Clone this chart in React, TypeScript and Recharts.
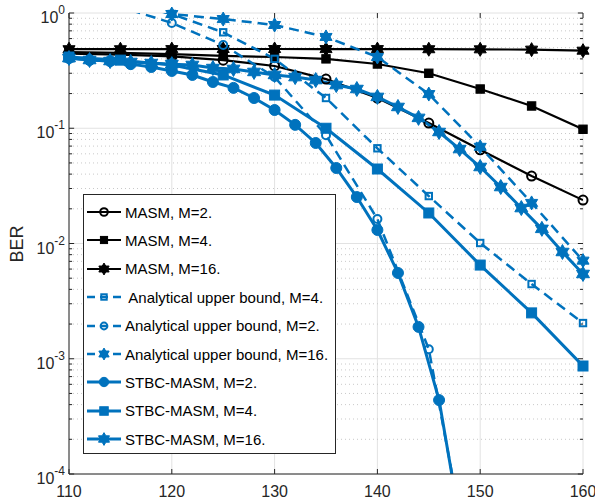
import React from "react";
import {
  LineChart,
  Line,
  XAxis,
  YAxis,
  CartesianGrid,
  ReferenceLine,
  Legend,
} from "recharts";

const FONT = '"Liberation Sans", Arial, Helvetica, sans-serif';
const BLUE = "#0072BD";
const BLACK = "#000000";
const AXIS = "#262626";

// SNR grid (dB)
const snrStep5 = [110, 115, 120, 125, 130, 135, 140, 145, 150, 155, 160];
const snrStep2 = [
  110, 112, 114, 116, 118, 120, 122, 124, 126, 128, 130, 132, 134, 136, 138,
  140, 142, 144, 146, 148, 150, 152, 154, 156, 158, 160,
];
const snrStbcM2 = [
  110, 112, 114, 116, 118, 120, 122, 124, 126, 128, 130, 132, 134, 136, 138,
  140, 142, 144, 146, 148,
];
const snrBoundM2 = [110, 115, 120, 125, 130, 135, 140, 145, 150];

// BER values
const berMasmM2 = [0.445, 0.435, 0.42, 0.39, 0.347, 0.267, 0.183, 0.111, 0.065, 0.0385, 0.0238];
const berMasmM4 = [0.459, 0.45, 0.44, 0.425, 0.415, 0.4, 0.361, 0.3, 0.219, 0.156, 0.098];
const berMasmM16 = [0.485, 0.485, 0.486, 0.487, 0.487, 0.486, 0.486, 0.485, 0.484, 0.481, 0.471];
const berBoundM4 = [1.6, 1.25, 0.98, 0.68, 0.4, 0.183, 0.067, 0.0258, 0.0101, 0.00445, 0.00204];
const berBoundM2 = [1.5, 1.13, 0.82, 0.528, 0.278, 0.087, 0.0163, 0.00121, 0.000005];
const berBoundM16 = [1.6, 1.3, 0.98, 0.886, 0.787, 0.62, 0.415, 0.198, 0.069, 0.0225, 0.0071];
const berStbcM2 = [
  0.407, 0.391, 0.383, 0.36, 0.34, 0.314, 0.29, 0.252, 0.224, 0.183, 0.144,
  0.107, 0.0745, 0.0452, 0.0253, 0.0131, 0.00555, 0.00189, 0.000438, 0.00004,
];
const berStbcM4 = [0.415, 0.39, 0.354, 0.29, 0.194, 0.1, 0.0443, 0.0184, 0.0065, 0.0025, 0.000865];
const berStbcM16 = [
  0.407, 0.391, 0.383, 0.376, 0.368, 0.36, 0.354, 0.333, 0.327, 0.308, 0.29,
  0.278, 0.262, 0.237, 0.219, 0.187, 0.153, 0.123, 0.0928, 0.066, 0.0461,
  0.0309, 0.0203, 0.0134, 0.00844, 0.00544,
];

const xTicks = [110, 120, 130, 140, 150, 160];
const yTicks = [0.0001, 0.001, 0.01, 0.1, 1];
const Y_MIN = 0.0001;
const Y_MAX = 1;

type Pt = { x: number; y: number };
type MarkerKind = "circle" | "square" | "hexagram";

const toPoints = (xs: number[], ys: number[]): Pt[] =>
  ys.map((y, i) => ({ x: xs[i], y }));

const series = [
  { name: "MASM, M=2.", data: toPoints(snrStep5, berMasmM2), color: BLACK, width: 2.2, dash: undefined, marker: "circle" as MarkerKind, size: 4.5, filled: false },
  { name: "MASM, M=4.", data: toPoints(snrStep5, berMasmM4), color: BLACK, width: 2.2, dash: undefined, marker: "square" as MarkerKind, size: 4.2, filled: true },
  { name: "MASM, M=16.", data: toPoints(snrStep5, berMasmM16), color: BLACK, width: 2.2, dash: undefined, marker: "hexagram" as MarkerKind, size: 7, filled: true },
  { name: " Analytical upper bound, M=4.", data: toPoints(snrStep5, berBoundM4), color: BLUE, width: 2.5, dash: "10 6", marker: "square" as MarkerKind, size: 3.2, filled: false },
  { name: "Analytical upper bound, M=2.", data: toPoints(snrBoundM2, berBoundM2), color: BLUE, width: 2.5, dash: "10 6", marker: "circle" as MarkerKind, size: 4, filled: false },
  { name: "Analytical upper bound, M=16.", data: toPoints(snrStep5, berBoundM16), color: BLUE, width: 2.5, dash: "10 6", marker: "hexagram" as MarkerKind, size: 7, filled: true },
  { name: "STBC-MASM, M=2.", data: toPoints(snrStbcM2, berStbcM2), color: BLUE, width: 3, dash: undefined, marker: "circle" as MarkerKind, size: 5.5, filled: true },
  { name: "STBC-MASM, M=4.", data: toPoints(snrStep5, berStbcM4), color: BLUE, width: 3, dash: undefined, marker: "square" as MarkerKind, size: 5, filled: true },
  { name: "STBC-MASM, M=16.", data: toPoints(snrStep2, berStbcM16), color: BLUE, width: 3, dash: undefined, marker: "hexagram" as MarkerKind, size: 7.5, filled: true },
];

// minor log grid positions (2..9 in every decade)
const minorY: number[] = [];
for (let d = -4; d < 0; d++) {
  for (let k = 2; k <= 9; k++) minorY.push(k * Math.pow(10, d));
}

function hexagram(cx: number, cy: number, R: number) {
  const r = R / Math.sqrt(3);
  const pts: string[] = [];
  for (let i = 0; i < 12; i++) {
    const a = ((-90 + i * 30) * Math.PI) / 180;
    const rad = i % 2 === 0 ? R : r;
    pts.push(`${(cx + rad * Math.cos(a)).toFixed(2)},${(cy + rad * Math.sin(a)).toFixed(2)}`);
  }
  return "M" + pts.join("L") + "Z";
}

function Marker({ kind, cx, cy, size, color, filled }: any) {
  const fill = filled ? color : "none";
  const sw = filled ? 1 : 2;
  if (kind === "circle")
    return <circle cx={cx} cy={cy} r={size} fill={fill} stroke={color} strokeWidth={sw} />;
  if (kind === "square")
    return (
      <rect x={cx - size} y={cy - size} width={size * 2} height={size * 2} fill={fill} stroke={color} strokeWidth={sw} />
    );
  return <path d={hexagram(cx, cy, size)} fill={fill} stroke={color} strokeWidth={sw} strokeLinejoin="miter" />;
}

const makeDot = (s: (typeof series)[number]) => (p: any) => {
  const { cx, cy, index } = p;
  if (cx == null || cy == null || isNaN(cy)) return <g key={index} />;
  return (
    <g key={index}>
      <Marker kind={s.marker} cx={cx} cy={cy} size={s.size} color={s.color} filled={s.filled} />
    </g>
  );
};

function YTickLabel({ x, y, payload }: any) {
  const exp = Math.round(Math.log10(payload.value));
  return (
    <text x={x} y={y} textAnchor="end" fill={AXIS} fontFamily={FONT} fontSize={16}>
      <tspan dy={10}>10</tspan>
      <tspan dy={-9} fontSize={12}>
        {exp}
      </tspan>
    </text>
  );
}

function BerLabel() {
  return (
    <text x={23} y={244} transform="rotate(-90 23 244)" textAnchor="middle" fill={AXIS} fontFamily={FONT} fontSize={18}>
      BER
    </text>
  );
}

function LegendBox() {
  return (
    <div
      style={{
        width: 253,
        height: 260,
        boxSizing: "border-box",
        border: `1px solid ${AXIS}`,
        background: "#fff",
        position: "relative",
        fontFamily: FONT,
        fontSize: 15,
        color: "#000",
      }}
    >
      {series.map((s, i) => (
        <div
          key={s.name}
          style={{
            position: "absolute",
            left: 0,
            top: 17 + i * 28.4 - 10,
            height: 20,
            display: "flex",
            alignItems: "center",
            whiteSpace: "pre",
          }}
        >
          <svg width={41} height={20} style={{ display: "block" }}>
            <line x1={3} y1={10} x2={37} y2={10} stroke={s.color} strokeWidth={s.width} strokeDasharray={s.dash ? "8 5" : undefined} />
            <Marker kind={s.marker} cx={20} cy={10} size={s.size * 0.85} color={s.color} filled={s.filled} />
          </svg>
          <span>{s.name}</span>
        </div>
      ))}
    </div>
  );
}

const TICK_X = 0.5;
const MINOR_X = 0.3;
const TICK_Y = 1.105;
const MINOR_Y = 1.062;

export default function App() {
  return (
    <div style={{ position: "absolute", left: 0, top: 0, background: "#fff" }}>
      <LineChart width={595} height={504} margin={{ top: 13, right: 12, bottom: 0, left: 9 }}>
        <CartesianGrid stroke="#e2e2e2" strokeWidth={1} />
        {minorY.map((v) => (
          <ReferenceLine key={"mg" + v} y={v} stroke="#c9c9c9" strokeDasharray="1 3" strokeWidth={1} />
        ))}
        {/* inward tick marks */}
        {xTicks.map((t) => (
          <ReferenceLine key={"tb" + t} segment={[{ x: t, y: Y_MIN }, { x: t, y: Y_MIN * TICK_Y }]} stroke={AXIS} />
        ))}
        {xTicks.map((t) => (
          <ReferenceLine key={"tt" + t} segment={[{ x: t, y: Y_MAX }, { x: t, y: Y_MAX / TICK_Y }]} stroke={AXIS} />
        ))}
        {yTicks.map((t) => (
          <ReferenceLine key={"tl" + t} segment={[{ x: 110, y: t }, { x: 110 + TICK_X, y: t }]} stroke={AXIS} />
        ))}
        {yTicks.map((t) => (
          <ReferenceLine key={"tr" + t} segment={[{ x: 160 - TICK_X, y: t }, { x: 160, y: t }]} stroke={AXIS} />
        ))}
        {minorY.map((v) => (
          <ReferenceLine key={"ml" + v} segment={[{ x: 110, y: v }, { x: 110 + MINOR_X, y: v }]} stroke={AXIS} />
        ))}
        {minorY.map((v) => (
          <ReferenceLine key={"mr" + v} segment={[{ x: 160 - MINOR_X, y: v }, { x: 160, y: v }]} stroke={AXIS} />
        ))}
        <XAxis
          dataKey="x"
          type="number"
          domain={[110, 160]}
          allowDataOverflow
          ticks={xTicks}
          tick={{ fill: AXIS, fontSize: 16, fontFamily: FONT }}
          tickLine={false}
          tickSize={0}
          tickMargin={12}
          height={30}
          axisLine={{ stroke: AXIS }}
        />
        <XAxis
          xAxisId="top"
          dataKey="x"
          type="number"
          orientation="top"
          domain={[110, 160]}
          ticks={xTicks}
          tick={false}
          tickLine={false}
          height={0}
          axisLine={{ stroke: AXIS }}
        />
        <YAxis
          type="number"
          scale="log"
          domain={[Y_MIN, Y_MAX]}
          allowDataOverflow
          ticks={yTicks}
          tick={<YTickLabel />}
          tickLine={false}
          tickSize={0}
          tickMargin={4}
          width={60}
          axisLine={{ stroke: AXIS }}
          label={<BerLabel />}
        />
        <YAxis
          yAxisId="right"
          type="number"
          scale="log"
          orientation="right"
          domain={[Y_MIN, Y_MAX]}
          ticks={yTicks}
          tick={false}
          tickLine={false}
          width={0}
          axisLine={{ stroke: AXIS }}
        />
        {series.map((s) => (
          <Line
            key={"line" + s.name}
            data={s.data}
            dataKey="y"
            stroke={s.color}
            strokeWidth={s.width}
            strokeDasharray={s.dash}
            dot={false}
            activeDot={false}
            legendType="none"
            isAnimationActive={false}
          />
        ))}
        {series.map((s) => (
          <Line
            key={"mk" + s.name}
            xAxisId="top"
            yAxisId="right"
            data={s.data.filter((p) => p.y >= Y_MIN && p.y <= Y_MAX)}
            dataKey="y"
            stroke="none"
            dot={makeDot(s)}
            activeDot={false}
            legendType="none"
            isAnimationActive={false}
          />
        ))}
        <Legend
          layout="vertical"
          align="center"
          verticalAlign="middle"
          wrapperStyle={{ left: 83, top: 194, width: 253, height: 260 }}
          content={() => <LegendBox />}
        />
      </LineChart>
    </div>
  );
}
